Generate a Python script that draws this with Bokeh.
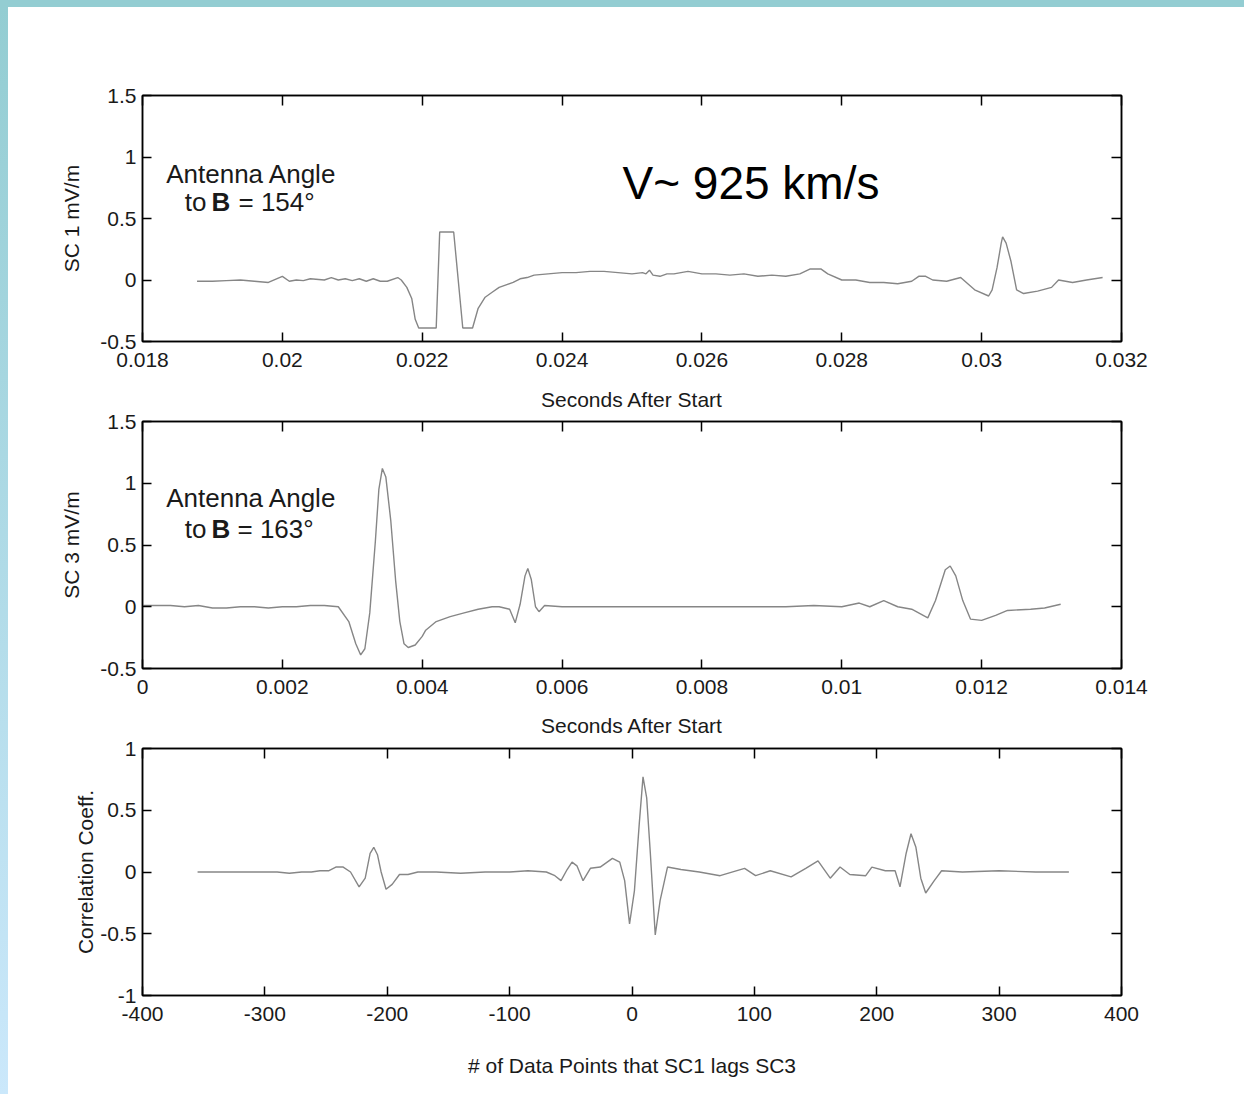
from bokeh.plotting import figure
from bokeh.models import (Range1d, LinearAxis, FixedTicker, NumeralTickFormatter,
                          CustomJSTickFormatter, Label, Div)
from bokeh.layouts import column, row
from bokeh.embed import file_html
from bokeh.resources import INLINE

# ---------------- data ----------------
sc1_t = [0.01878, 0.0190, 0.0192, 0.0194, 0.0196, 0.0198, 0.0200, 0.0201, 0.0202, 0.0203,
         0.0204, 0.0206, 0.0207, 0.0208, 0.0209, 0.0210, 0.0211, 0.0212, 0.0213, 0.0214,
         0.0215, 0.02165, 0.0217, 0.02178, 0.02185, 0.0219, 0.02195, 0.0222, 0.02225, 0.02245,
         0.02258, 0.02272, 0.0228, 0.0229, 0.0230, 0.0231, 0.0232, 0.0233, 0.0234, 0.0235,
         0.0236, 0.0238, 0.0240, 0.0242, 0.0244, 0.0246, 0.0248, 0.0250, 0.02515, 0.0252,
         0.02525, 0.0253, 0.0254, 0.0255, 0.0256, 0.0258, 0.0260, 0.0262, 0.0264, 0.0266,
         0.0268, 0.0270, 0.0272, 0.0274, 0.02755, 0.0277, 0.0278, 0.0280, 0.0282, 0.0284,
         0.0286, 0.0288, 0.0290, 0.0291, 0.0292, 0.0293, 0.0295, 0.0297, 0.0299, 0.0301,
         0.03015, 0.03022, 0.03028, 0.0303, 0.03035, 0.03042, 0.0305, 0.0306, 0.0308, 0.0310,
         0.0311, 0.0313, 0.0315, 0.03173]
sc1_e = [-0.01, -0.01, -0.005, 0.0, -0.01, -0.02, 0.03, -0.01, 0.0, -0.005,
         0.01, 0.0, 0.02, 0.0, 0.01, -0.005, 0.01, -0.01, 0.01, -0.01,
         -0.01, 0.02, 0.0, -0.06, -0.15, -0.32, -0.39, -0.39, 0.39, 0.39,
         -0.39, -0.39, -0.23, -0.14, -0.10, -0.06, -0.04, -0.02, 0.01, 0.02,
         0.04, 0.05, 0.06, 0.06, 0.07, 0.07, 0.06, 0.05, 0.06, 0.05,
         0.08, 0.04, 0.03, 0.05, 0.05, 0.07, 0.05, 0.05, 0.04, 0.05,
         0.03, 0.04, 0.03, 0.05, 0.09, 0.09, 0.05, 0.0, 0.0, -0.02,
         -0.02, -0.03, -0.01, 0.03, 0.03, 0.0, -0.01, 0.02, -0.08, -0.13,
         -0.08, 0.10, 0.30, 0.35, 0.30, 0.15, -0.08, -0.11, -0.09, -0.06,
         0.0, -0.02, 0.0, 0.02]

sc3_t = [0.0, 0.0002, 0.0004, 0.0006, 0.0008, 0.0010, 0.0012, 0.0014, 0.0016, 0.0018,
         0.0020, 0.0022, 0.0024, 0.0026, 0.0028, 0.00295, 0.00305, 0.00312, 0.00318, 0.00325,
         0.00333, 0.00338, 0.00343, 0.00348, 0.00355, 0.00362, 0.00368, 0.00374, 0.00380, 0.0039,
         0.0040, 0.00405, 0.0042, 0.0044, 0.0046, 0.0048, 0.0050, 0.0051, 0.00525, 0.00533,
         0.0054, 0.00547, 0.00551, 0.00556, 0.00562, 0.00567, 0.00575, 0.0060, 0.0064, 0.0068,
         0.0072, 0.0076, 0.0080, 0.0084, 0.0088, 0.0092, 0.0096, 0.0100, 0.01025, 0.0104,
         0.0106, 0.0108, 0.0110, 0.01123, 0.01134, 0.01148, 0.01155, 0.01163, 0.01173, 0.01184,
         0.0120, 0.0122, 0.01237, 0.0127, 0.0129, 0.01313]
sc3_e = [0.01, 0.01, 0.01, 0.0, 0.01, -0.01, -0.01, 0.0, 0.0, -0.01,
         0.0, 0.0, 0.01, 0.01, 0.0, -0.12, -0.30, -0.39, -0.34, -0.05,
         0.53, 0.95, 1.12, 1.05, 0.70, 0.21, -0.12, -0.30, -0.33, -0.31,
         -0.24, -0.19, -0.12, -0.08, -0.05, -0.02, 0.0, 0.0, -0.02, -0.13,
         0.02, 0.25, 0.31, 0.22, 0.0, -0.04, 0.01, 0.0, 0.0, 0.0,
         0.0, 0.0, 0.0, 0.0, 0.0, 0.0, 0.01, 0.0, 0.03, 0.0,
         0.05, 0.0, -0.02, -0.09, 0.05, 0.30, 0.33, 0.25, 0.05, -0.10,
         -0.11, -0.07, -0.03, -0.02, -0.01, 0.02]

lag_pts = [-355, -290, -280, -270, -262, -255, -248, -242, -236, -230,
           -223, -218, -214, -211, -208, -205, -201, -196, -190, -183,
           -175, -160, -140, -120, -100, -85, -70, -63, -58, -53,
           -49, -45, -40, -34, -26, -16, -10, -6, -2, 2,
           6, 9, 12, 15, 19, 23, 29, 40, 55, 72,
           92, 101, 113, 130, 142, 152, 162, 170, 178, 191,
           196, 207, 215, 219, 224, 228, 232, 236, 240, 247,
           253, 270, 300, 330, 357]
corr_coef = [0.0, 0.0, -0.01, 0.0, 0.0, 0.01, 0.01, 0.04, 0.04, 0.0,
             -0.12, -0.05, 0.15, 0.20, 0.14, 0.0, -0.14, -0.10, -0.02, -0.02,
             0.0, 0.0, -0.01, 0.0, 0.0, 0.01, 0.0, -0.03, -0.07, 0.02,
             0.08, 0.05, -0.07, 0.03, 0.04, 0.11, 0.08, -0.07, -0.42, -0.15,
             0.40, 0.77, 0.60, 0.15, -0.51, -0.23, 0.04, 0.02, 0.0, -0.03,
             0.03, -0.03, 0.01, -0.04, 0.03, 0.09, -0.05, 0.04, -0.02, -0.03,
             0.04, 0.01, 0.01, -0.12, 0.15, 0.31, 0.20, -0.05, -0.17, -0.07,
             0.01, 0.0, 0.01, 0.0, 0.0]

x_ticks_a = [0.018, 0.02, 0.022, 0.024, 0.026, 0.028, 0.03, 0.032]
x_ticks_b = [0, 0.002, 0.004, 0.006, 0.008, 0.01, 0.012, 0.014]
x_ticks_c = [-400, -300, -200, -100, 0, 100, 200, 300, 400]
y_ticks_ab = [-0.5, 0, 0.5, 1, 1.5]
y_ticks_c = [-1, -0.5, 0, 0.5, 1]

title_text = "6 April 2002 10:23:06.81 UT"
speed_text = "V~ 925 km/s"
time_label = "Seconds After Start"
angle_a = "= 154°"
angle_b = "= 163°"

# ---------------- styling ----------------
FONT = "Liberation Sans"
TXT = "#1a1a1a"
TRACE = "#868686"
FL, FW = 142, 979          # frame left / width in page pixels


def style_axis(ax, ticks, fmt, tick_len, standoff, size="21px"):
    ax.ticker = FixedTicker(ticks=ticks)
    ax.formatter = fmt
    ax.major_tick_in = tick_len
    ax.major_tick_out = 0
    ax.minor_tick_in = 0
    ax.minor_tick_out = 0
    ax.axis_line_color = "black"
    ax.axis_line_width = 1.5
    ax.major_tick_line_color = "black"
    ax.major_tick_line_width = 1.5
    ax.major_label_text_font = FONT
    ax.major_label_text_font_size = size
    ax.major_label_text_color = TXT
    ax.major_label_standoff = standoff
    ax.axis_label_text_font = FONT
    ax.axis_label_text_font_size = "21px"
    ax.axis_label_text_font_style = "normal"
    ax.axis_label_text_color = TXT


def make_panel(x, y, xr, yr, xticks, yticks, xfmt, yfmt, top, fh, bottom,
               xlabel, ylabel, xl_standoff, yl_standoff, top_label=None, tl_standoff=0):
    p = figure(frame_width=FW, frame_height=fh, min_border_left=134, min_border_right=123,
               min_border_top=top, min_border_bottom=bottom,
               x_range=Range1d(*xr), y_range=Range1d(*yr),
               output_backend="svg", toolbar_location=None,
               background_fill_color="white", border_fill_color="white")
    p.grid.visible = False
    p.outline_line_color = "black"
    p.outline_line_width = 1.5
    xa = p.xaxis[0]
    ya = p.yaxis[0]
    style_axis(xa, xticks, NumeralTickFormatter(format=xfmt), 9, 11)
    style_axis(ya, yticks, NumeralTickFormatter(format=yfmt), 9, 6)
    if xlabel:
        xa.axis_label = xlabel
        xa.axis_label_standoff = xl_standoff
    ya.axis_label = ylabel
    ya.axis_label_standoff = yl_standoff
    top_ax = LinearAxis()
    style_axis(top_ax, xticks, CustomJSTickFormatter(code="return ''"), 10, 0, "1px")
    if top_label:
        # the x label of the panel above sits in this panel's top margin
        top_ax.axis_label = top_label
        top_ax.axis_label_standoff = tl_standoff
    right_ax = LinearAxis()
    style_axis(right_ax, yticks, CustomJSTickFormatter(code="return ''"), 10, 0, "1px")
    p.add_layout(top_ax, "above")
    p.add_layout(right_ax, "right")
    p.line(x, y, line_color=TRACE, line_width=1.4)
    return p


def to_data(xr, yr, ftop, fh, px, py):
    dx = xr[0] + (px - FL) / FW * (xr[1] - xr[0])
    dy = yr[1] - (py - ftop) / fh * (yr[1] - yr[0])
    return dx, dy


def add_text(p, geo, px, py, text, size, align="left", bold=False, color=TXT):
    dx, dy = to_data(*geo, px, py)
    p.add_layout(Label(x=dx, y=dy, text=text, text_font=FONT, text_font_size=size,
                       text_align=align, text_baseline="middle", text_color=color,
                       text_font_style="bold" if bold else "normal"))


# ---------------- panel A  (page y 7..384) ----------------
xr_a, yr_a = (0.018, 0.032), (-0.5, 1.5)
pA = make_panel(sc1_t, sc1_e, xr_a, yr_a, x_ticks_a, y_ticks_ab, "0.[000]", "0.[0]",
                88, 246, 43, None, "SC 1 mV/m", 0, 14)
gA = (xr_a, yr_a, 95, 246)
add_text(pA, gA, 611.5, 70, title_text, "25px", "center")
add_text(pA, gA, 622, 182, speed_text, "46px", "left", color="black")
add_text(pA, gA, 251, 173, "Antenna Angle", "26px", "center")
add_text(pA, gA, 206, 201, "to", "26px", "right")
add_text(pA, gA, 211, 201, "B", "26px", "left", bold=True)
add_text(pA, gA, 238, 201, angle_a, "26px", "left")
add_text(pA, gA, 1176, 228, "(A)", "29px", "center")

# ---------------- panel B  (page y 384..705) ----------------
xr_b, yr_b = (0, 0.014), (-0.5, 1.5)
pB = make_panel(sc3_t, sc3_e, xr_b, yr_b, x_ticks_b, y_ticks_ab, "0.[000]", "0.[0]",
                37, 247, 37, None, "SC 3 mV/m", 0, 14,
                top_label=time_label, tl_standoff=11)
gB = (xr_b, yr_b, 421, 247)
add_text(pB, gB, 251, 497, "Antenna Angle", "26px", "center")
add_text(pB, gB, 206, 528, "to", "26px", "right")
add_text(pB, gB, 211, 528, "B", "26px", "left", bold=True)
add_text(pB, gB, 237, 528, angle_b, "26px", "left")
add_text(pB, gB, 1176, 540, "(B)", "29px", "center")

# ---------------- panel C  (page y 705..1094) ----------------
xr_c, yr_c = (-400, 400), (-1, 1)
pC = make_panel(lag_pts, corr_coef, xr_c, yr_c, x_ticks_c, y_ticks_c, "0", "0.[0]",
                43, 247, 99, "# of Data Points that SC1 lags SC3", "Correlation Coeff.", 30, 0,
                top_label=time_label, tl_standoff=12)
gC = (xr_c, yr_c, 748, 247)
add_text(pC, gC, 1176, 860, "(C)", "29px", "center")

# ---------------- slide frame ----------------
top_band = Div(text="", width=1244, height=7, margin=0,
               styles={"background-color": "#93cdd2"})
left_band = Div(text="", width=8, height=1087, margin=0,
                styles={"background": "linear-gradient(to bottom, #93cdd2, #cbe8fb)"})

layout = column(top_band,
                row(left_band, column(pA, pB, pC, spacing=0), spacing=0),
                spacing=0)

open("out.html", "w").write(file_html(layout, INLINE))
